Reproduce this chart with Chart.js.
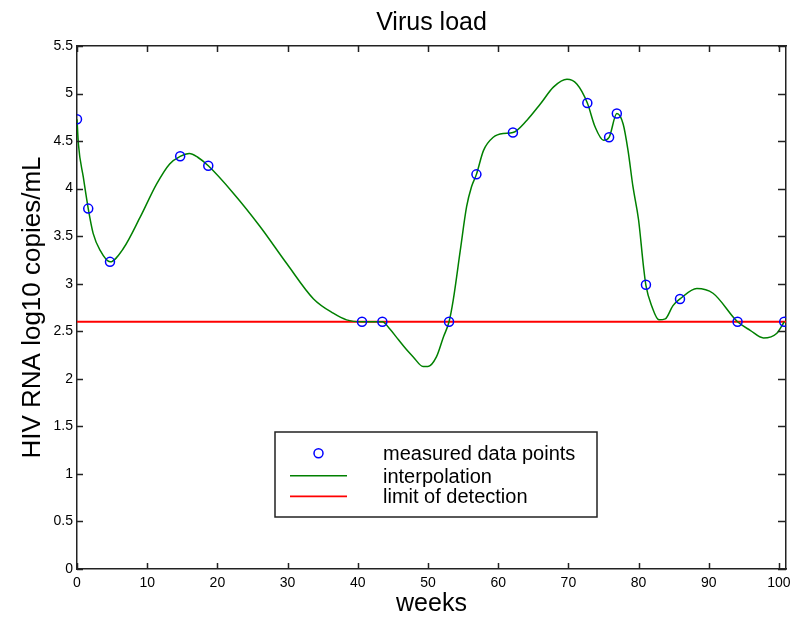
<!DOCTYPE html>
<html>
<head>
<meta charset="utf-8">
<script src="https://cdn.jsdelivr.net/npm/chart.js@4"></script>
<style>
html,body{margin:0;padding:0;background:#fff;}
#wrap{width:797px;height:619px;position:relative;}
</style>
</head>
<body>
<div id="wrap"><canvas id="c" width="797" height="619"></canvas></div>
<script>
// ---- data ----
const chartTitle = "Virus load";
const xTitle = "weeks";
const yTitle = "HIV RNA log10 copies/mL";
const seriesNames = ["measured data points", "interpolation", "limit of detection"];

const measuredWeeks = [0, 1.6, 4.7, 14.7, 18.7, 40.6, 43.5, 53.0, 56.9, 62.1, 72.7, 75.8, 76.9, 81.05, 85.9, 94.1, 100.75];
const measuredLoads = [4.73, 3.79, 3.23, 4.34, 4.24, 2.60, 2.60, 2.60, 4.15, 4.59, 4.90, 4.54, 4.79, 2.99, 2.84, 2.60, 2.60];

const curveWeeks = [0, 0.2, 0.9, 1.6, 2.3, 3.3, 4.7, 6.6, 9.0, 11.35, 13.2, 14.7, 16.0, 17.2, 18.7, 22.3, 26.1, 29.9, 33.7, 36.5, 38.4, 40.6, 43.5, 44.6, 45.8, 46.9, 47.9, 49.3, 50.0, 51.2, 52.2, 53.0, 53.6, 54.6, 55.5, 56.2, 56.9, 57.9, 59.3, 60.7, 62.1, 64.1, 66.0, 67.9, 69.8, 71.2, 72.7, 73.8, 75.0, 75.8, 76.9, 77.8, 78.5, 79.2, 80.0, 80.7, 81.05, 81.9, 82.9, 83.8, 84.9, 85.9, 88.3, 90.6, 94.1, 95.9, 97.8, 99.7, 100.75];
const curveLoads = [4.73, 4.47, 4.12, 3.79, 3.53, 3.35, 3.23, 3.37, 3.70, 4.05, 4.26, 4.34, 4.37, 4.33, 4.24, 3.95, 3.60, 3.21, 2.84, 2.69, 2.62, 2.60, 2.60, 2.52, 2.41, 2.31, 2.23, 2.13, 2.13, 2.23, 2.44, 2.60, 2.83, 3.35, 3.81, 4.02, 4.15, 4.40, 4.54, 4.58, 4.59, 4.72, 4.89, 5.07, 5.15, 5.10, 4.90, 4.65, 4.51, 4.54, 4.79, 4.68, 4.40, 4.02, 3.67, 3.18, 2.98, 2.76, 2.62, 2.63, 2.77, 2.84, 2.95, 2.90, 2.60, 2.51, 2.43, 2.48, 2.60];

const detectionLimit = 2.6;
const xRange = [0, 101];
const yRange = [0, 5.5];
const xTickLabels = ["0", "10", "20", "30", "40", "50", "60", "70", "80", "90", "100"];
const yTickLabels = ["0", "0.5", "1", "1.5", "2", "2.5", "3", "3.5", "4", "4.5", "5", "5.5"];

// ---- build ----
const FONT = "'Liberation Sans', Arial, Helvetica, sans-serif";
const AXIS = "#222";

const toXY = (xs, ys) => xs.map((x, i) => ({x: x, y: ys[i]}));

const inwardTicks = {
  id: 'inwardTicks',
  afterDatasetsDraw(chart) {
    const {ctx, chartArea: a, scales} = chart;
    ctx.save();
    ctx.strokeStyle = AXIS;
    ctx.lineWidth = 1.5;
    ctx.beginPath();
    scales.x.ticks.forEach(t => {
      const px = Math.round(scales.x.getPixelForValue(t.value)) + 0.5;
      ctx.moveTo(px, a.bottom); ctx.lineTo(px, a.bottom - 6);
      ctx.moveTo(px, a.top); ctx.lineTo(px, a.top + 6);
    });
    scales.y.ticks.forEach(t => {
      const py = Math.round(scales.y.getPixelForValue(t.value)) + 0.5;
      ctx.moveTo(a.left, py); ctx.lineTo(a.left + 6, py);
      ctx.moveTo(a.right, py); ctx.lineTo(a.right - 8, py);
    });
    ctx.stroke();
    ctx.restore();
  }
};

const boxLegend = {
  id: 'boxLegend',
  afterDraw(chart) {
    const {ctx} = chart;
    const box = {l: 275, t: 432, r: 597, b: 517};
    const rows = [453.3, 475.7, 496.3];
    ctx.save();
    ctx.fillStyle = '#fff';
    ctx.fillRect(box.l, box.t, box.r - box.l, box.b - box.t);
    ctx.strokeStyle = AXIS;
    ctx.lineWidth = 1.5;
    ctx.strokeRect(box.l, box.t, box.r - box.l, box.b - box.t);
    [0, 1, 2].forEach((di, i) => {
      const ds = chart.data.datasets[di];
      const y = rows[i];
      if (ds.showLine === false) {
        ctx.beginPath();
        ctx.strokeStyle = ds.borderColor;
        ctx.lineWidth = ds.pointBorderWidth;
        ctx.arc(318.5, y, ds.pointRadius, 0, Math.PI * 2);
        ctx.stroke();
      } else {
        ctx.beginPath();
        ctx.strokeStyle = ds.borderColor;
        ctx.lineWidth = ds.borderWidth;
        ctx.moveTo(290, y); ctx.lineTo(347, y);
        ctx.stroke();
      }
      ctx.fillStyle = '#000';
      ctx.font = "20px " + FONT;
      ctx.textAlign = 'left';
      ctx.textBaseline = 'alphabetic';
      ctx.fillText(ds.label, 383, y + 7);
    });
    ctx.restore();
  }
};

const axisFont = {family: FONT, size: 14};
const titleFont = {family: FONT, size: 25};
const yTitleFont = {family: FONT, size: 26};

new Chart(document.getElementById('c'), {
  type: 'scatter',
  data: {
    datasets: [
      {
        label: seriesNames[0],
        data: toXY(measuredWeeks, measuredLoads),
        showLine: false,
        borderColor: '#0000ff',
        backgroundColor: 'rgba(0,0,0,0)',
        pointRadius: 4.5,
        pointBorderWidth: 1.5,
        pointStyle: 'circle'
      },
      {
        label: seriesNames[1],
        data: toXY(curveWeeks, curveLoads),
        showLine: true,
        borderColor: '#008000',
        borderWidth: 1.5,
        pointRadius: 0,
        cubicInterpolationMode: 'monotone'
      },
      {
        label: seriesNames[2],
        data: toXY(xRange, [detectionLimit, detectionLimit]),
        showLine: true,
        borderColor: '#ff0000',
        borderWidth: 1.8,
        pointRadius: 0
      }
    ]
  },
  options: {
    responsive: false,
    animation: false,
    events: [],
    layout: {padding: 0},
    plugins: {
      legend: {display: false},
      tooltip: {enabled: false},
      title: {display: false}
    },
    scales: {
      x: {
        type: 'linear', position: 'bottom',
        min: xRange[0], max: xRange[1],
        afterFit: s => { s.height = 50; },
        afterBuildTicks: s => { s.ticks = xTickLabels.map(v => ({value: Number(v)})); },
        ticks: {
          padding: 6, color: '#000', font: axisFont, maxRotation: 0, autoSkip: false,
          callback: (v) => xTickLabels.find(l => Number(l) === v) ?? ''
        },
        grid: {drawOnChartArea: false, drawTicks: false},
        border: {display: true, color: AXIS, width: 1.5},
        title: {display: true, text: xTitle, color: '#000', font: titleFont, padding: {top: 0, bottom: 0}}
      },
      x2: {
        type: 'linear', position: 'top',
        min: xRange[0], max: xRange[1],
        afterFit: s => { s.height = 46; },
        ticks: {display: false},
        grid: {drawOnChartArea: false, drawTicks: false},
        border: {display: true, color: AXIS, width: 1.5},
        title: {display: true, text: chartTitle, color: '#000', font: titleFont, padding: {top: 8, bottom: 0}}
      },
      y: {
        type: 'linear', position: 'left',
        min: yRange[0], max: yRange[1],
        afterFit: s => { s.width = 77; },
        afterBuildTicks: s => { s.ticks = yTickLabels.map(v => ({value: Number(v)})); },
        ticks: {
          padding: 4, color: '#000', font: axisFont, autoSkip: false,
          callback: (v) => yTickLabels.find(l => Number(l) === v) ?? ''
        },
        grid: {drawOnChartArea: false, drawTicks: false},
        border: {display: true, color: AXIS, width: 1.5},
        title: {display: true, text: yTitle, color: '#000', font: yTitleFont, padding: {top: 17, bottom: 0}}
      },
      y2: {
        type: 'linear', position: 'right',
        min: yRange[0], max: yRange[1],
        afterFit: s => { s.width = 11; },
        ticks: {display: false},
        grid: {drawOnChartArea: false, drawTicks: false},
        border: {display: true, color: AXIS, width: 1.5}
      }
    }
  },
  plugins: [inwardTicks, boxLegend]
});
</script>
</body>
</html>
